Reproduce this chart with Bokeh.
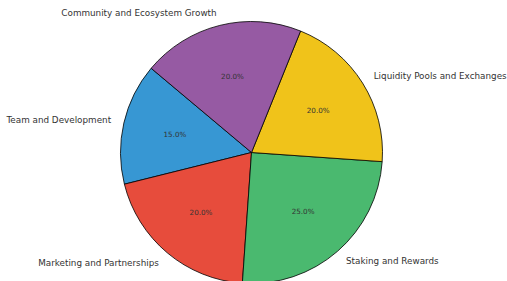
import numpy as np
from bokeh.plotting import figure
from bokeh.models import ColumnDataSource, Range1d
from bokeh.core.properties import value
from bokeh.embed import file_html
from bokeh.resources import INLINE

categories = ["Team and Development", "Marketing and Partnerships", "Staking and Rewards",
              "Liquidity Pools and Exchanges", "Community and Ecosystem Growth"]
shares = [15, 20, 25, 20, 20]
colors = ["#3797d3", "#e74c3c", "#4ab96f", "#f0c31a", "#965aa3"]
start_deg = 140

W, H = 507, 281
cx, cy, r = 251, 281 - 152, 131

vals = np.array(shares, dtype=float)
frac = vals / vals.sum()
ends = np.deg2rad(start_deg) + np.cumsum(frac) * 2 * np.pi
starts = ends - frac * 2 * np.pi
mids = (starts + ends) / 2

src = ColumnDataSource(dict(start=starts, end=ends, color=colors))

p = figure(width=W, height=H, output_backend="svg", toolbar_location=None,
           x_range=Range1d(0, W), y_range=Range1d(0, H), min_border=0)
p.axis.visible = False
p.grid.visible = False
p.outline_line_color = None

p.wedge(x=cx, y=cy, radius=r, start_angle="start", end_angle="end", direction="anticlock",
        fill_color="color", line_color="black", line_width=0.8, source=src)

lx = cx + 1.1 * r * np.cos(mids)
ly = cy + 1.1 * r * np.sin(mids)
align = ["left" if np.cos(m) > 0 else "right" for m in mids]
lab = ColumnDataSource(dict(x=lx, y=ly, t=categories, a=align))
p.text(x="x", y="y", text="t", text_align="a", text_baseline="middle",
       text_font=value("DejaVu Sans"), text_font_size=value("8.8px"),
       text_color="#333333", source=lab)

px = cx + 0.6 * r * np.cos(mids)
py = cy + 0.6 * r * np.sin(mids)
pct = ColumnDataSource(dict(x=px, y=py, t=[f"{v * 100:.1f}%" for v in frac]))
p.text(x="x", y="y", text="t", text_align="center", text_baseline="middle",
       text_font=value("DejaVu Sans"), text_font_size=value("7.2px"),
       text_color="#333333", source=pct)

open("out.html", "w").write(file_html(p, INLINE))
